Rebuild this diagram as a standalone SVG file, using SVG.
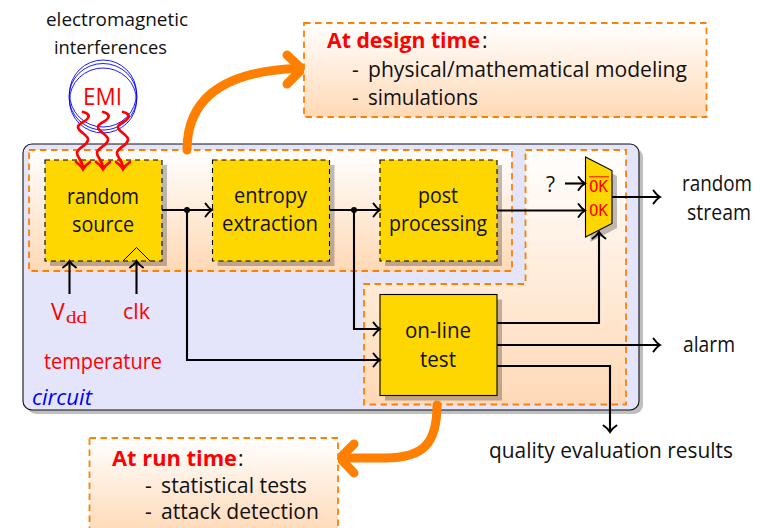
<svg xmlns="http://www.w3.org/2000/svg" width="772" height="528" viewBox="0 0 772 528">
<style>
text{font-family:"Open Sans","Noto Sans","Liberation Sans",sans-serif;font-size:21px;fill:#111}
.sm{font-size:18.5px}
.red{fill:#ff0000}
.ok{font-family:"DejaVu Sans Mono","Liberation Mono",monospace;font-size:16px;fill:#ff0000}
.region{fill:url(#peach);stroke:#ff8000;stroke-width:1.8;stroke-dasharray:6.5 4.5}
.shadow{fill:#000;fill-opacity:.25;stroke:none}
.block{fill:#ffd700;stroke:#000;stroke-width:1.1}
.dash{stroke-dasharray:5 4}
.wire{fill:none;stroke:#000;stroke-width:2.1;marker-end:url(#head)}
.dot{fill:#000}
.fat{fill:none;stroke:#ff8000;stroke-width:9;stroke-linecap:round;stroke-linejoin:round}
.snake{fill:none;stroke:#ff0000;stroke-width:2.7;stroke-linecap:round;marker-end:url(#rhead)}
.ring{fill:none;stroke:#0000ff;stroke-width:.9}
</style>
<defs>
<linearGradient id="peach" x1="0" y1="0" x2="0" y2="1"><stop offset="0" stop-color="#ffffff"/><stop offset="1" stop-color="#ffd9b6"/></linearGradient>
<marker id="head" markerUnits="userSpaceOnUse" markerWidth="14" markerHeight="18" refX="9" refY="8" orient="auto" overflow="visible"><path d="M2.500,1.500 Q5.500,6 9,8 Q5.500,10 2.500,14.500" fill="none" stroke="#000" stroke-width="2" stroke-linecap="round"/></marker>
<marker id="rhead" markerUnits="userSpaceOnUse" markerWidth="14" markerHeight="18" refX="9" refY="8" orient="auto" overflow="visible"><path d="M2,1 Q5.500,6 9,8 Q5.500,10 2,15" fill="none" stroke="#ff0000" stroke-width="2.700" stroke-linecap="round"/></marker>
</defs>

<g id="circuit">
<rect class="shadow" x="27" y="148" width="616" height="266" rx="9"/>
<rect x="23" y="144" width="616" height="266" rx="9" fill="#e4e4fb" stroke="#111" stroke-width="1.1"/>
<text x="32" y="405" font-style="italic" style="fill:#0000ff" textLength="60" lengthAdjust="spacingAndGlyphs">circuit</text>
</g>

<g id="region-top">
<rect class="region" x="29" y="150" width="483" height="121"/>
</g>
<g id="region-right">
<path class="region" d="M525.500,150H626V404.500H364V284H525.500Z"/>
</g>

<g id="random-source">
<rect class="shadow" x="50" y="165" width="117" height="101"/>
<rect class="block dash" x="45" y="160" width="117" height="101"/>
<path d="M123,261L136.500,247.500L150,261" fill="none" stroke="#000" stroke-width="1"/>
<text x="67" y="204" textLength="72" lengthAdjust="spacingAndGlyphs">random</text>
<text x="72" y="232" textLength="62" lengthAdjust="spacingAndGlyphs">source</text>
</g>
<g id="entropy-extraction">
<rect class="shadow" x="217.500" y="165" width="117" height="101"/>
<rect class="block dash" x="212.500" y="160" width="117" height="101"/>
<text x="234" y="203" textLength="73" lengthAdjust="spacingAndGlyphs">entropy</text>
<text x="222" y="231" textLength="96" lengthAdjust="spacingAndGlyphs">extraction</text>
</g>
<g id="post-processing">
<rect class="shadow" x="385" y="165" width="117" height="101"/>
<rect class="block dash" x="380" y="160" width="117" height="101"/>
<text x="418" y="203" textLength="40" lengthAdjust="spacingAndGlyphs">post</text>
<text x="389" y="231" textLength="98" lengthAdjust="spacingAndGlyphs">processing</text>
</g>
<g id="online-test">
<rect class="shadow" x="385" y="299.500" width="117" height="101"/>
<rect class="block" x="380" y="294.500" width="117" height="101"/>
<text x="405" y="338" textLength="66" lengthAdjust="spacingAndGlyphs">on-line</text>
<text x="420" y="367" textLength="36" lengthAdjust="spacingAndGlyphs">test</text>
</g>
<g id="mux">
<path class="shadow" d="M590.500,162L617,176V228L590.500,242Z"/>
<path class="block" d="M585.500,157L612,170.500V223.500L585.500,237Z"/>
<line x1="589" y1="176.800" x2="609" y2="176.800" stroke="#ff0000" stroke-width="1"/>
<text class="ok" x="589" y="192" textLength="19" lengthAdjust="spacingAndGlyphs">OK</text>
<text class="ok" x="589" y="216" textLength="19" lengthAdjust="spacingAndGlyphs">OK</text>
</g>

<g id="connectors">
<path class="wire" d="M162,210H212"/>
<path class="wire" d="M187,210V360H380"/>
<path class="wire" d="M329.500,210H380"/>
<path class="wire" d="M354,210V329H380"/>
<path class="wire" d="M497,210.500H585"/>
<path class="wire" d="M565,183.500H585"/>
<path class="wire" d="M612,197H660"/>
<path class="wire" d="M497,323H599V232"/>
<path class="wire" d="M497,345H660"/>
<path class="wire" d="M497,366H610V432"/>
<path class="wire" d="M69.500,294V261"/>
<path class="wire" d="M136.500,294V261"/>
<circle class="dot" cx="187" cy="210" r="3"/>
<circle class="dot" cx="354" cy="210" r="3"/>
<path class="fat" d="M187,150C187,105 215,71 298,68.500"/>
<path class="fat" d="M287,55L302,69L287,84"/>
<path class="fat" d="M437,405C437,442 425,458 385,458C370,458 355,458 343,458"/>
<path class="fat" d="M354,444L340,458L354,473"/>
</g>

<g id="emi">
<ellipse class="ring" cx="103" cy="93.500" rx="33.500" ry="33.500"/>
<ellipse class="ring" cx="103" cy="96.800" rx="34" ry="33.300"/>
<ellipse class="ring" cx="103" cy="100.500" rx="33.500" ry="32.500"/>
<text class="red" x="83" y="105" style="font-size:23px" textLength="39" lengthAdjust="spacingAndGlyphs">EMI</text>
<path class="snake" d="M83,112C87,113 90,115 88,118C86,122 78,123 78,127C78,132 89,135 88,140C87,146 77,148 77,153C77,158 83,160 83,169"/>
<path class="snake" d="M103,112C107,113 110,115 108,118C106,122 98,123 98,127C98,132 109,135 108,140C107,146 97,148 97,153C97,158 103,160 103,169"/>
<path class="snake" d="M123,112C127,113 130,115 128,118C126,122 118,123 118,127C118,132 129,135 128,140C127,146 117,148 117,153C117,158 123,160 123,169"/>
</g>

<g id="emi-label">
<text class="sm" x="46" y="26" textLength="142" lengthAdjust="spacingAndGlyphs">electromagnetic</text>
<text class="sm" x="54" y="54" textLength="113" lengthAdjust="spacingAndGlyphs">interferences</text>
</g>

<g id="inputs">
<text class="red" x="51" y="320" style="font-size:23px">V</text>
<text x="66" y="323" style="font-family:'Liberation Serif',serif;font-size:16px;fill:#ff0000" textLength="21" lengthAdjust="spacingAndGlyphs">dd</text>
<text class="red" x="123" y="319" textLength="27" lengthAdjust="spacingAndGlyphs">clk</text>
<text class="red" x="44" y="369" textLength="118" lengthAdjust="spacingAndGlyphs">temperature</text>
<text x="546" y="192">?</text>
</g>

<g id="outputs">
<text x="682" y="191" textLength="70" lengthAdjust="spacingAndGlyphs">random</text>
<text x="687" y="220" textLength="64" lengthAdjust="spacingAndGlyphs">stream</text>
<text x="683" y="352" textLength="52" lengthAdjust="spacingAndGlyphs">alarm</text>
<text x="489" y="458" textLength="244" lengthAdjust="spacingAndGlyphs">quality evaluation results</text>
</g>

<g id="design-time">
<rect class="region" x="304" y="23" width="402.500" height="94"/>
<text class="red" x="327" y="48" font-weight="700" textLength="153" lengthAdjust="spacingAndGlyphs">At design time</text>
<text x="482" y="48">:</text>
<text x="352" y="77">-</text>
<text x="368" y="77" textLength="319" lengthAdjust="spacingAndGlyphs">physical/mathematical modeling</text>
<text x="352" y="105">-</text>
<text x="368" y="105" textLength="110" lengthAdjust="spacingAndGlyphs">simulations</text>
</g>

<g id="run-time">
<rect class="region" x="89.500" y="438" width="248.500" height="96"/>
<text class="red" x="112" y="466" font-weight="700" textLength="125" lengthAdjust="spacingAndGlyphs">At run time</text>
<text x="238" y="466">:</text>
<text x="145" y="493">-</text>
<text x="161" y="493" textLength="146" lengthAdjust="spacingAndGlyphs">statistical tests</text>
<text x="145" y="519">-</text>
<text x="161" y="519" textLength="158" lengthAdjust="spacingAndGlyphs">attack detection</text>
</g>
</svg>
